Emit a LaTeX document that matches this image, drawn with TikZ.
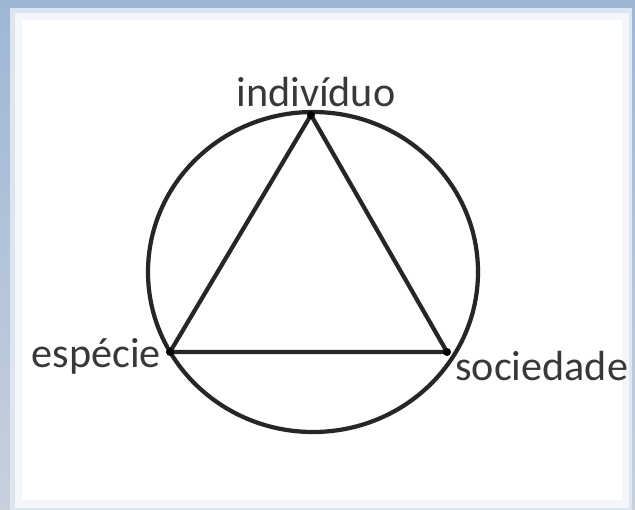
\documentclass[tikz,border=0pt]{standalone}
\usepackage{fontspec}
\setmainfont{Carlito}
\usetikzlibrary{positioning}
\definecolor{framebl}{RGB}{158,182,214}
\definecolor{framegr}{RGB}{200,208,220}
\tikzset{
  lbl/.style={font=\fontsize{24}{28}\selectfont, text=black!78, inner sep=0pt},
  edge/.style={line width=2.4pt, black!85}
}
\begin{document}
\begin{tikzpicture}[x=0.02cm,y=-0.02cm]
  % frame
  \fill[top color=framebl, bottom color=framegr] (0,0) rectangle (635,510);
  \fill[framebl!35] (10,8) rectangle (632,510);
  \fill[framebl!12] (15,13) rectangle (629,508);
  \fill[white] (22,20) rectangle (622,500);
  \useasboundingbox (0,0) rectangle (635,510);
  % circle and triangle
  \draw[edge] (313,272) ellipse (165 and 160);
  \coordinate (ind) at (311,115);
  \coordinate (esp) at (170,352);
  \coordinate (soc) at (447,352);
  \draw[edge, line join=round] (ind) -- (esp) -- (soc) -- cycle;
  \foreach \p in {ind,esp,soc}{
    \fill[black] (\p) circle (4);
  }
  % labels
  \node[lbl] (indlbl) at (316,92) {indivíduo};
  \node[lbl, anchor=east] (esplbl) at (161,356) {espécie};
  \node[lbl, anchor=west] (soclbl) at (455,366) {sociedade};
\end{tikzpicture}
\end{document}
